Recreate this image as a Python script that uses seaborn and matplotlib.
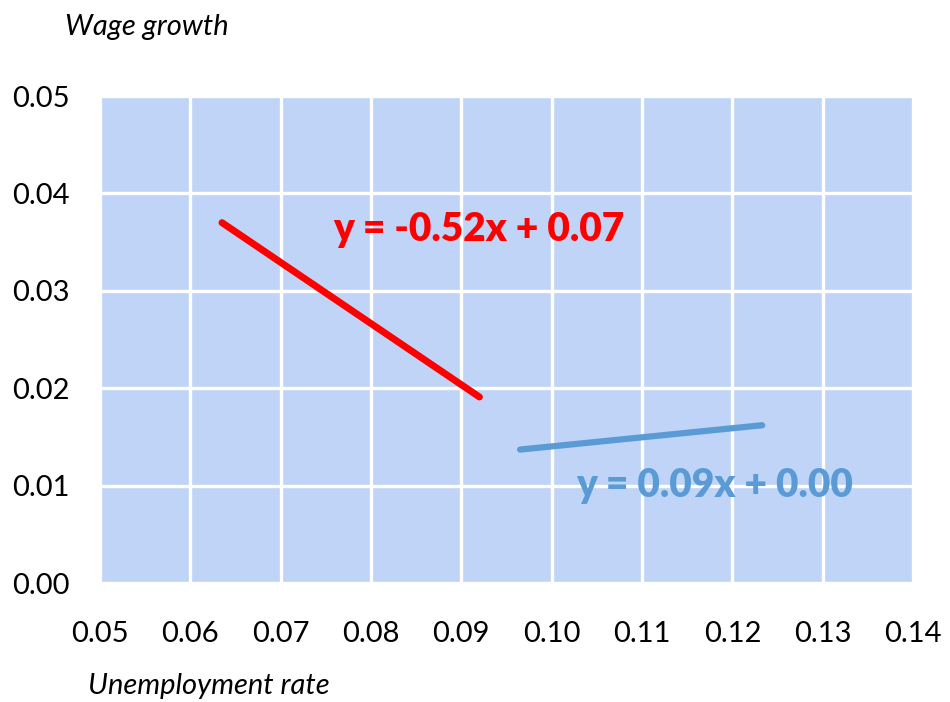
import matplotlib
matplotlib.use("Agg")
import matplotlib.pyplot as plt
import seaborn as sns
import pandas as pd

# trend line endpoints
red_x = [0.0635, 0.0920]
red_y = [0.0370, 0.0191]
blue_x = [0.0965, 0.1233]
blue_y = [0.0137, 0.0162]

red_label = "y = -0.52x + 0.07"
blue_label = "y = 0.09x + 0.00"

x_ticks = [0.05, 0.06, 0.07, 0.08, 0.09, 0.10, 0.11, 0.12, 0.13, 0.14]
y_ticks = [0.00, 0.01, 0.02, 0.03, 0.04, 0.05]

sns.set_style("whitegrid", {"axes.facecolor": "#C0D4F7", "grid.color": "white"})
plt.rcParams['font.family'] = ['Lato', 'DejaVu Sans']

fig = plt.figure(figsize=(9.5, 7.02), dpi=100)
ax = fig.add_axes([0.1053, 0.1695, 0.8558, 0.6937])

red_df = pd.DataFrame({"x": red_x, "y": red_y})
blue_df = pd.DataFrame({"x": blue_x, "y": blue_y})
sns.lineplot(data=red_df, x="x", y="y", ax=ax, color="#FF0000", linewidth=5)
sns.lineplot(data=blue_df, x="x", y="y", ax=ax, color="#5B9BD5", linewidth=4.5)

ax.set_xlim(0.05, 0.14)
ax.set_ylim(0.0, 0.05)
ax.set_xticks(x_ticks)
ax.set_yticks(y_ticks)
ax.set_xticklabels([f"{v:.2f}" for v in x_ticks], fontsize=21, color="black")
ax.set_yticklabels([f"{v:.2f}" for v in y_ticks], fontsize=21, color="black", ha="left")
ax.tick_params(axis="x", pad=27, length=0)
ax.tick_params(axis="y", pad=63, length=0)
ax.grid(True, color="white", linewidth=2.4)
for s in ax.spines.values():
    s.set_visible(False)
ax.set_xlabel("")
ax.set_ylabel("")

ax.text(0.0758, 0.0351, red_label, color="#FF0000", fontsize=28, fontweight="heavy",
        ha="left", va="baseline")
ax.text(0.1027, 0.0088, blue_label, color="#5B9BD5", fontsize=28, fontweight="heavy",
        ha="left", va="baseline")

fig.text(65 / 950, 1 - 27 / 702, "Wage growth", fontsize=21, style="italic",
         color="black", ha="left", va="center")
fig.text(88 / 950, 1 - 686 / 702, "Unemployment rate", fontsize=21, style="italic",
         color="black", ha="left", va="center")

fig.savefig("out.png", dpi=100)
